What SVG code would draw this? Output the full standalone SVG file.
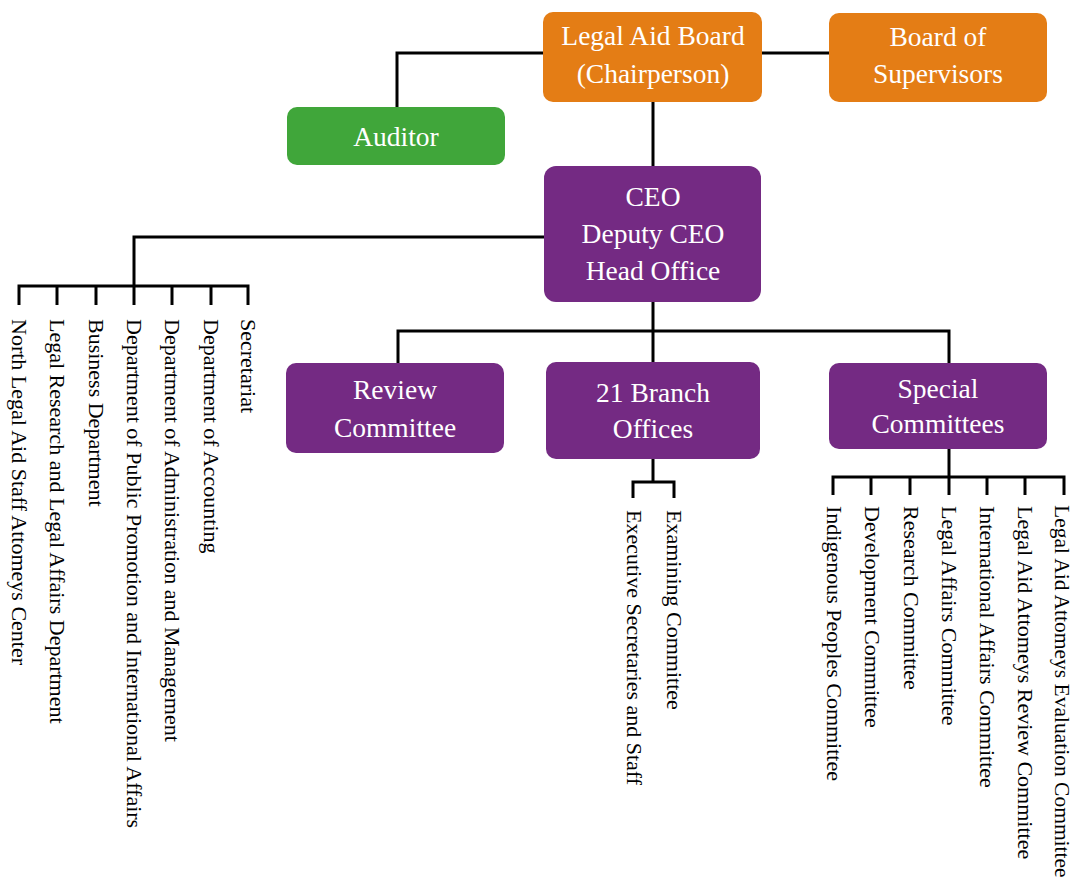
<svg xmlns="http://www.w3.org/2000/svg" width="1073" height="890" viewBox="0 0 1073 890">
<style>
.box{stroke:none}
.orange{fill:#E47D15}
.green{fill:#40A63A}
.purple{fill:#742A83}
.nt{font-family:"Liberation Serif","Times New Roman",serif;font-size:27.5px;fill:#FFFFFF;text-anchor:middle}
.vt{font-family:"Liberation Serif","Times New Roman",serif;font-size:22px;fill:#000000}
.ln{fill:none;stroke:#000000;stroke-width:3;stroke-linecap:butt;stroke-linejoin:miter}
</style>
<rect width="1073" height="890" fill="#FFFFFF"/>
<g id="connectors">
<polyline class="ln" points="397,107 397,53 543,53"/>
<line class="ln" x1="762" y1="53" x2="829" y2="53"/>
<line class="ln" x1="653" y1="102" x2="653" y2="166"/>
<polyline class="ln" points="544,237 134,237 134,286"/>
<polyline class="ln" points="19,305 19,286 248,286 248,305"/>
<line class="ln" x1="57" y1="286" x2="57" y2="305"/>
<line class="ln" x1="96" y1="286" x2="96" y2="305"/>
<line class="ln" x1="134" y1="286" x2="134" y2="305"/>
<line class="ln" x1="172" y1="286" x2="172" y2="305"/>
<line class="ln" x1="211" y1="286" x2="211" y2="305"/>
<line class="ln" x1="653" y1="302" x2="653" y2="362"/>
<polyline class="ln" points="398,363 398,331 949,331 949,363"/>
<line class="ln" x1="653" y1="459" x2="653" y2="482"/>
<polyline class="ln" points="633,498 633,482 674,482 674,498"/>
<line class="ln" x1="949" y1="449" x2="949" y2="477"/>
<polyline class="ln" points="833,495 833,477 1064,477 1064,495"/>
<line class="ln" x1="871" y1="477" x2="871" y2="495"/>
<line class="ln" x1="910" y1="477" x2="910" y2="495"/>
<line class="ln" x1="949" y1="477" x2="949" y2="495"/>
<line class="ln" x1="987" y1="477" x2="987" y2="495"/>
<line class="ln" x1="1025" y1="477" x2="1025" y2="495"/>
</g>
<g id="legal-aid-board">
<rect class="box orange" x="543" y="12" width="219" height="90" rx="10"/>
<text class="nt" x="653" y="45">Legal Aid Board</text>
<text class="nt" x="653" y="83">(Chairperson)</text>
</g>
<g id="board-of-supervisors">
<rect class="box orange" x="829" y="13" width="218" height="89" rx="10"/>
<text class="nt" x="938" y="46">Board of</text>
<text class="nt" x="938" y="83">Supervisors</text>
</g>
<g id="auditor">
<rect class="box green" x="287" y="107" width="218" height="58" rx="10"/>
<text class="nt" x="396" y="146">Auditor</text>
</g>
<g id="ceo">
<rect class="box purple" x="544" y="166" width="217" height="136" rx="12"/>
<text class="nt" x="653" y="206">CEO</text>
<text class="nt" x="653" y="243">Deputy CEO</text>
<text class="nt" x="653" y="280">Head Office</text>
</g>
<g id="review-committee">
<rect class="box purple" x="286" y="363" width="218" height="90" rx="10"/>
<text class="nt" x="395" y="399">Review</text>
<text class="nt" x="395" y="437">Committee</text>
</g>
<g id="branch-offices">
<rect class="box purple" x="546" y="362" width="214" height="97" rx="10"/>
<text class="nt" x="653" y="402">21 Branch</text>
<text class="nt" x="653" y="438">Offices</text>
</g>
<g id="special-committees">
<rect class="box purple" x="829" y="363" width="218" height="86" rx="10"/>
<text class="nt" x="938" y="398">Special</text>
<text class="nt" x="938" y="433">Committees</text>
</g>
<g id="head-office-units">
<text class="vt" transform="translate(19,319) rotate(90)" y="7">North Legal Aid Staff Attomeys Center</text>
<text class="vt" transform="translate(57,319) rotate(90)" y="7">Legal Research and Legal Affairs Department</text>
<text class="vt" transform="translate(96,319) rotate(90)" y="7">Business Department</text>
<text class="vt" transform="translate(134,319) rotate(90)" y="7">Department of Public Promotion and International Affairs</text>
<text class="vt" transform="translate(172,319) rotate(90)" y="7">Department of Administration and Management</text>
<text class="vt" transform="translate(211,319) rotate(90)" y="7">Department of Accounting</text>
<text class="vt" transform="translate(248,319) rotate(90)" y="7">Secretariat</text>
</g>
<g id="branch-units">
<text class="vt" transform="translate(634,510) rotate(90)" y="7">Executive Secretaries and Staff</text>
<text class="vt" transform="translate(674,510) rotate(90)" y="7">Examining Committee</text>
</g>
<g id="special-units">
<text class="vt" transform="translate(834,506) rotate(90)" y="7">Indigenous Peoples Committee</text>
<text class="vt" transform="translate(872,506) rotate(90)" y="7">Development Committee</text>
<text class="vt" transform="translate(911,506) rotate(90)" y="7">Research Committee</text>
<text class="vt" transform="translate(949,506) rotate(90)" y="7">Legal Affairs Committee</text>
<text class="vt" transform="translate(987,506) rotate(90)" y="7">International Affairs Committee</text>
<text class="vt" transform="translate(1025,506) rotate(90)" y="7">Legal Aid Attomeys Review Committee</text>
<text class="vt" transform="translate(1062,505) rotate(90)" y="7" style="font-size:21.5px">Legal Aid Attomeys Evaluation Committee</text>
</g>
</svg>
